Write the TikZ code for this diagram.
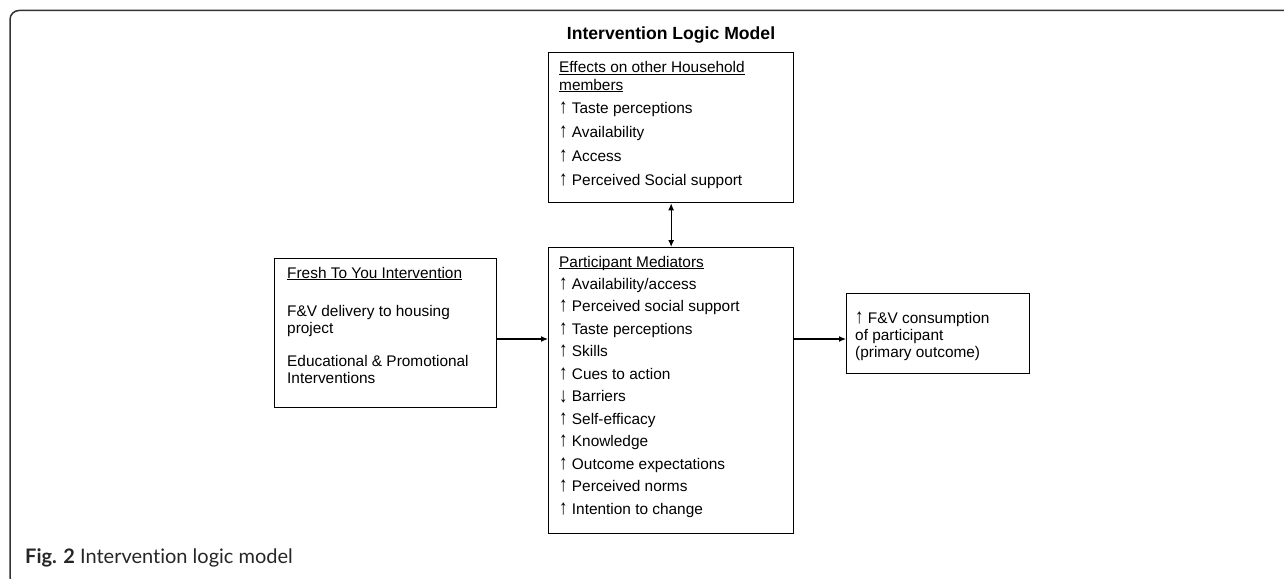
\documentclass[tikz,border=0pt]{standalone}
\usepackage{fontspec}
\usepackage{graphicx}
\setmainfont{Liberation Sans}
\newfontfamily\capfont[Ligatures={NoCommon,NoDiscretionary}]{Lato}
\usetikzlibrary{arrows.meta}
% underline at a fixed depth below the baseline, crossing descenders
\newcommand\headul[1]{\setbox0\hbox{#1}\rlap{\rule[-2.3pt]{\wd0}{0.9pt}}\box0}
% taller thin arrows in front of list items
\newcommand\upar{\scalebox{1.1}[1.35]{↑}}
\newcommand\dnar{\raisebox{-0.9pt}{\scalebox{1.1}[1.35]{↓}}}

\begin{document}
\begin{tikzpicture}[x=1pt,y=-1pt,
  box/.style={draw=black, line width=1.3pt, anchor=north west, inner sep=0pt},
  ln/.style={anchor=base west, inner sep=0pt, font=\fontsize{15.4}{17.5}\selectfont},
  arr/.style={-{Latex[length=7pt,width=6pt]}, line width=1.2pt},
  dbl/.style={{Latex[length=7pt,width=6pt]}-{Latex[length=7pt,width=6pt]}, line width=1.2pt},
]
\useasboundingbox (0,0) rectangle (1284,578);
\clip (0,0) rectangle (1284,578);

% figure frame (open on the right and bottom)
\draw[line width=1.5pt, black!80, rounded corners=9pt]
  (60,586) -- (10,586) -- (10,10.5) -- (1300,10.5);

% title
\node[anchor=base, inner sep=0pt, font=\bfseries\fontsize{17.6}{20}\selectfont]
  (title) at (671,40) {Intervention Logic Model};

% boxes
\node[box, minimum width=245pt, minimum height=150pt] (hh)  at (548,52)  {};
\node[box, minimum width=245pt, minimum height=286pt] (med) at (548,247) {};
\node[box, minimum width=222pt, minimum height=149pt] (fty) at (274,258) {};
\node[box, minimum width=183pt, minimum height=80pt]  (out) at (846,293) {};

% household box text
\node[ln] (hh1) at (559,73) {\headul{Effects on other Household}};
\node[ln] (hh2) at (559,90) {\headul{members}};
\foreach \t [count=\i] in {Taste perceptions, Availability, Access, Perceived Social support}
  \node[ln] (hhi\i) at (559,{113+24*(\i-1)}) {\upar\ \t};

% participant mediators text
\node[ln] (md0) at (559,267) {\headul{Participant Mediators}};
\foreach \a/\t [count=\i] in {\upar/Availability\slash access, \upar/Perceived social support,
    \upar/Taste perceptions, \upar/Skills, \upar/Cues to action, \dnar/Barriers, \upar/Self-efficacy,
    \upar/Knowledge, \upar/Outcome expectations, \upar/Perceived norms, \upar/Intention to change}
  \node[ln] (md\i) at (559,{289+22.5*(\i-1)}) {\a\ \t};

% intervention box text
\node[ln] (ft0) at (287,278) {\headul{Fresh To You Intervention}};
\node[ln] (ft1) at (287,316) {F\&V delivery to housing};
\node[ln] (ft2) at (287,333) {project};
\node[ln] (ft3) at (287,366) {Educational \& Promotional};
\node[ln] (ft4) at (287,383) {Interventions};

% outcome box text
\node[ln] (ou1) at (855,323) {\upar\ F\&V consumption};
\node[ln] (ou2) at (855,340) {of participant};
\node[ln] (ou3) at (855,357) {(primary outcome)};

% connectors
\coordinate (lvl) at (0,339);
\draw[dbl] (hh.south) -- (med.north);
\draw[arr] (fty.east |- lvl) -- (med.west |- lvl);
\draw[arr] (med.east |- lvl) -- (out.west |- lvl);

% caption
\node[anchor=base west, inner sep=0pt, text=black!85, font=\capfont\fontsize{20}{22}\selectfont]
  (cap) at (25,563) {\textbf{Fig. 2} Intervention logic model};
\end{tikzpicture}
\end{document}
